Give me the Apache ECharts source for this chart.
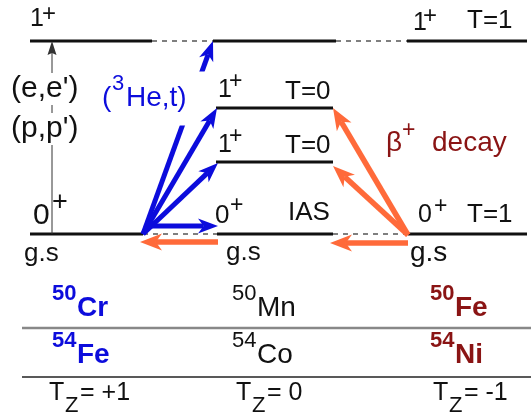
<!DOCTYPE html>
<html><head><meta charset="utf-8">
<script src="https://cdn.jsdelivr.net/npm/echarts@6/dist/echarts.min.js"></script>
<style>html,body{margin:0;padding:0;background:#fff}#c{width:531px;height:420px}</style>
</head><body><div id="c"></div>
<script>
// ---------------- data (diagram units, y grows downward = lower energy) ----------------
// nuclei per column (mass number, symbol)
const rowA50 = [['50', 'Cr'], ['50', 'Mn'], ['50', 'Fe']];
const rowA54 = [['54', 'Fe'], ['54', 'Co'], ['54', 'Ni']];
const tzValues = ['+1', '0', '-1'];
// levels: [xStart, xEnd, level]
const levelsSolid = [
  [30, 152, 41], [213, 336, 41], [407, 527, 41],
  [216, 333, 108], [216, 333, 162],
  [30, 143, 234], [217, 333, 234], [408, 527, 234]
];
const levelsDashed = [[152, 213, 41], [336, 407, 41], [143, 217, 234], [333, 408, 234]];
// transitions: [x0, y0, x1, y1]
const excitation = [[52, 234, 52, 41]];
const heLongArrow = [[143, 234, 213, 41]];
const heArrows = [[143, 234, 217, 108], [143, 234, 218, 163], [146, 226, 218, 226]];
const betaArrows = [[408, 235, 333, 108], [408, 235, 333, 166], [408, 243, 330, 243], [218, 242, 140, 242]];
// table rules: [xStart, xEnd, y]
const ruleGray = [[22, 531, 328]];
const ruleBlack = [[22, 531, 377]];

// ---------------- styles / layout ----------------
const FONT = '"Liberation Sans", Arial, Helvetica, sans-serif';
const BLUE = '#0c0cdc', ORANGE = '#ff6a3a', DARKRED = '#8a1414', INK = '#111';
const colX = [52, 232, 430];

// text pieces: [text, x, y, size, color, weight, bgPadding]
const labels = [];
function T(t, x, y, s, c, w, bg) { labels.push([t, x, y, s, c || INK, w || 'normal', bg || null]); }
T('He,t)', 126, 98.5, 28, BLUE, 'normal', [26, 24, 0, 0]);
T('(', 102, 98, 28, BLUE); T('3', 112, 84, 22, BLUE);
T('1', 30, 19, 25); T('+', 42, 14, 24);
T('1', 413, 23, 25); T('+', 423, 16, 24); T('T=1', 467, 21, 26);
T('1', 218, 90, 25); T('+', 229, 82, 23); T('T=0', 285, 92, 26);
T('1', 218, 145, 25); T('+', 229, 137, 23); T('T=0', 285, 146, 26);
T('0', 33, 216, 30); T('+', 52, 203, 27);
T('0', 215, 216, 26); T('+', 230, 206, 23); T('IAS', 288, 213, 26);
T('0', 418, 215, 25); T('+', 434, 207, 23); T('T=1', 467, 215, 26);
T('g.s', 24, 254, 26); T('g.s', 226, 253, 26); T('g.s', 410, 253, 28);
T("(e,e')", 11, 89, 30, INK, 'normal', [1, 0, 1, 0]);
T("(p,p')", 11, 129, 30, INK, 'normal', [1, 0, 1, 0]);
T('\u03b2', 386, 143, 28, DARKRED); T('+', 402, 131, 23, DARKRED); T('decay', 432, 143, 28, DARKRED);
const colColor = [BLUE, INK, DARKRED], colWeight = ['bold', 'normal', 'bold'];
rowA50.forEach((n, i) => { T(n[0], colX[i], 294, 22, colColor[i], colWeight[i]); T(n[1], colX[i] + 25, 308, 28, colColor[i], colWeight[i]); });
rowA54.forEach((n, i) => { T(n[0], colX[i], 341, 22, colColor[i], colWeight[i]); T(n[1], colX[i] + 25, 355, 28, colColor[i], colWeight[i]); });
tzValues.forEach((v, i) => { const x = colX[i] + [-3, 4, 3][i]; T('T', x, 393, 25); T('Z', x + 16, 406, 22); T('= ' + v, x + 31, 393, 25); });

function segRender(style) {
  return (params, api) => {
    const a = api.coord([api.value(0), api.value(2)]);
    const b = api.coord([api.value(1), api.value(2)]);
    return { type: 'line', shape: { x1: a[0], y1: a[1], x2: b[0], y2: b[1] }, style: style };
  };
}
function arrowRender(color, w, L, W, notch) {
  return (params, api) => {
    const p = api.coord([api.value(0), api.value(1)]);
    const q = api.coord([api.value(2), api.value(3)]);
    const dx = q[0] - p[0], dy = q[1] - p[1], len = Math.hypot(dx, dy);
    const ux = dx / len, uy = dy / len, nx = -uy, ny = ux;
    const bx = q[0] - ux * L, by = q[1] - uy * L;
    const nbx = q[0] - ux * L * notch, nby = q[1] - uy * L * notch;
    return { type: 'group', children: [
      { type: 'line', shape: { x1: p[0], y1: p[1], x2: nbx, y2: nby }, style: { stroke: color, lineWidth: w } },
      { type: 'polygon', shape: { points: [[q[0], q[1]], [bx + nx * W / 2, by + ny * W / 2], [nbx, nby], [bx - nx * W / 2, by - ny * W / 2]] }, style: { fill: color } }
    ] };
  };
}
function textRender(params, api) {
  const l = labels[params.dataIndex];
  const p = api.coord([l[1], l[2]]);
  const st = { text: l[0], fontSize: l[3], fontFamily: FONT, fontWeight: l[5], fill: l[4], align: 'left', verticalAlign: 'middle' };
  if (l[6]) { st.backgroundColor = '#fff'; st.padding = l[6]; }
  return { type: 'text', x: p[0], y: p[1], style: st };
}
const seg = (data, style, z) => ({ type: 'custom', coordinateSystem: 'cartesian2d', data: data, renderItem: segRender(style), z: z, silent: true });
const arr = (data, r, z) => ({ type: 'custom', coordinateSystem: 'cartesian2d', data: data, renderItem: r, z: z, silent: true });

const chart = echarts.init(document.getElementById('c'), null, { renderer: 'canvas' });
chart.setOption({
  animation: false,
  backgroundColor: '#fff',
  grid: { left: 0, right: 0, top: 0, bottom: 0 },
  xAxis: { type: 'value', min: 0, max: 531, show: false },
  yAxis: { type: 'value', min: 0, max: 420, inverse: true, show: false },
  series: [
    seg(levelsDashed, { stroke: '#555', lineWidth: 1.5, lineDash: [5, 5] }, 1),
    seg(levelsSolid, { stroke: INK, lineWidth: 3 }, 2),
    seg(ruleGray, { stroke: '#888', lineWidth: 2.5 }, 2),
    seg(ruleBlack, { stroke: '#222', lineWidth: 1.5 }, 2),
    arr(excitation, arrowRender('#333', 1, 14, 9, 0.85), 2),
    arr(heLongArrow, arrowRender(BLUE, 5, 20, 15, 0.72), 3),
    { type: 'custom', coordinateSystem: 'cartesian2d', data: labels.map((l, i) => [l[1], l[2]]), renderItem: textRender, z: 4, silent: true },
    arr(heArrows, arrowRender(BLUE, 5, 20, 15, 0.72), 5),
    arr(betaArrows, arrowRender(ORANGE, 5.5, 22, 17, 0.72), 5)
  ]
});
</script></body></html>
